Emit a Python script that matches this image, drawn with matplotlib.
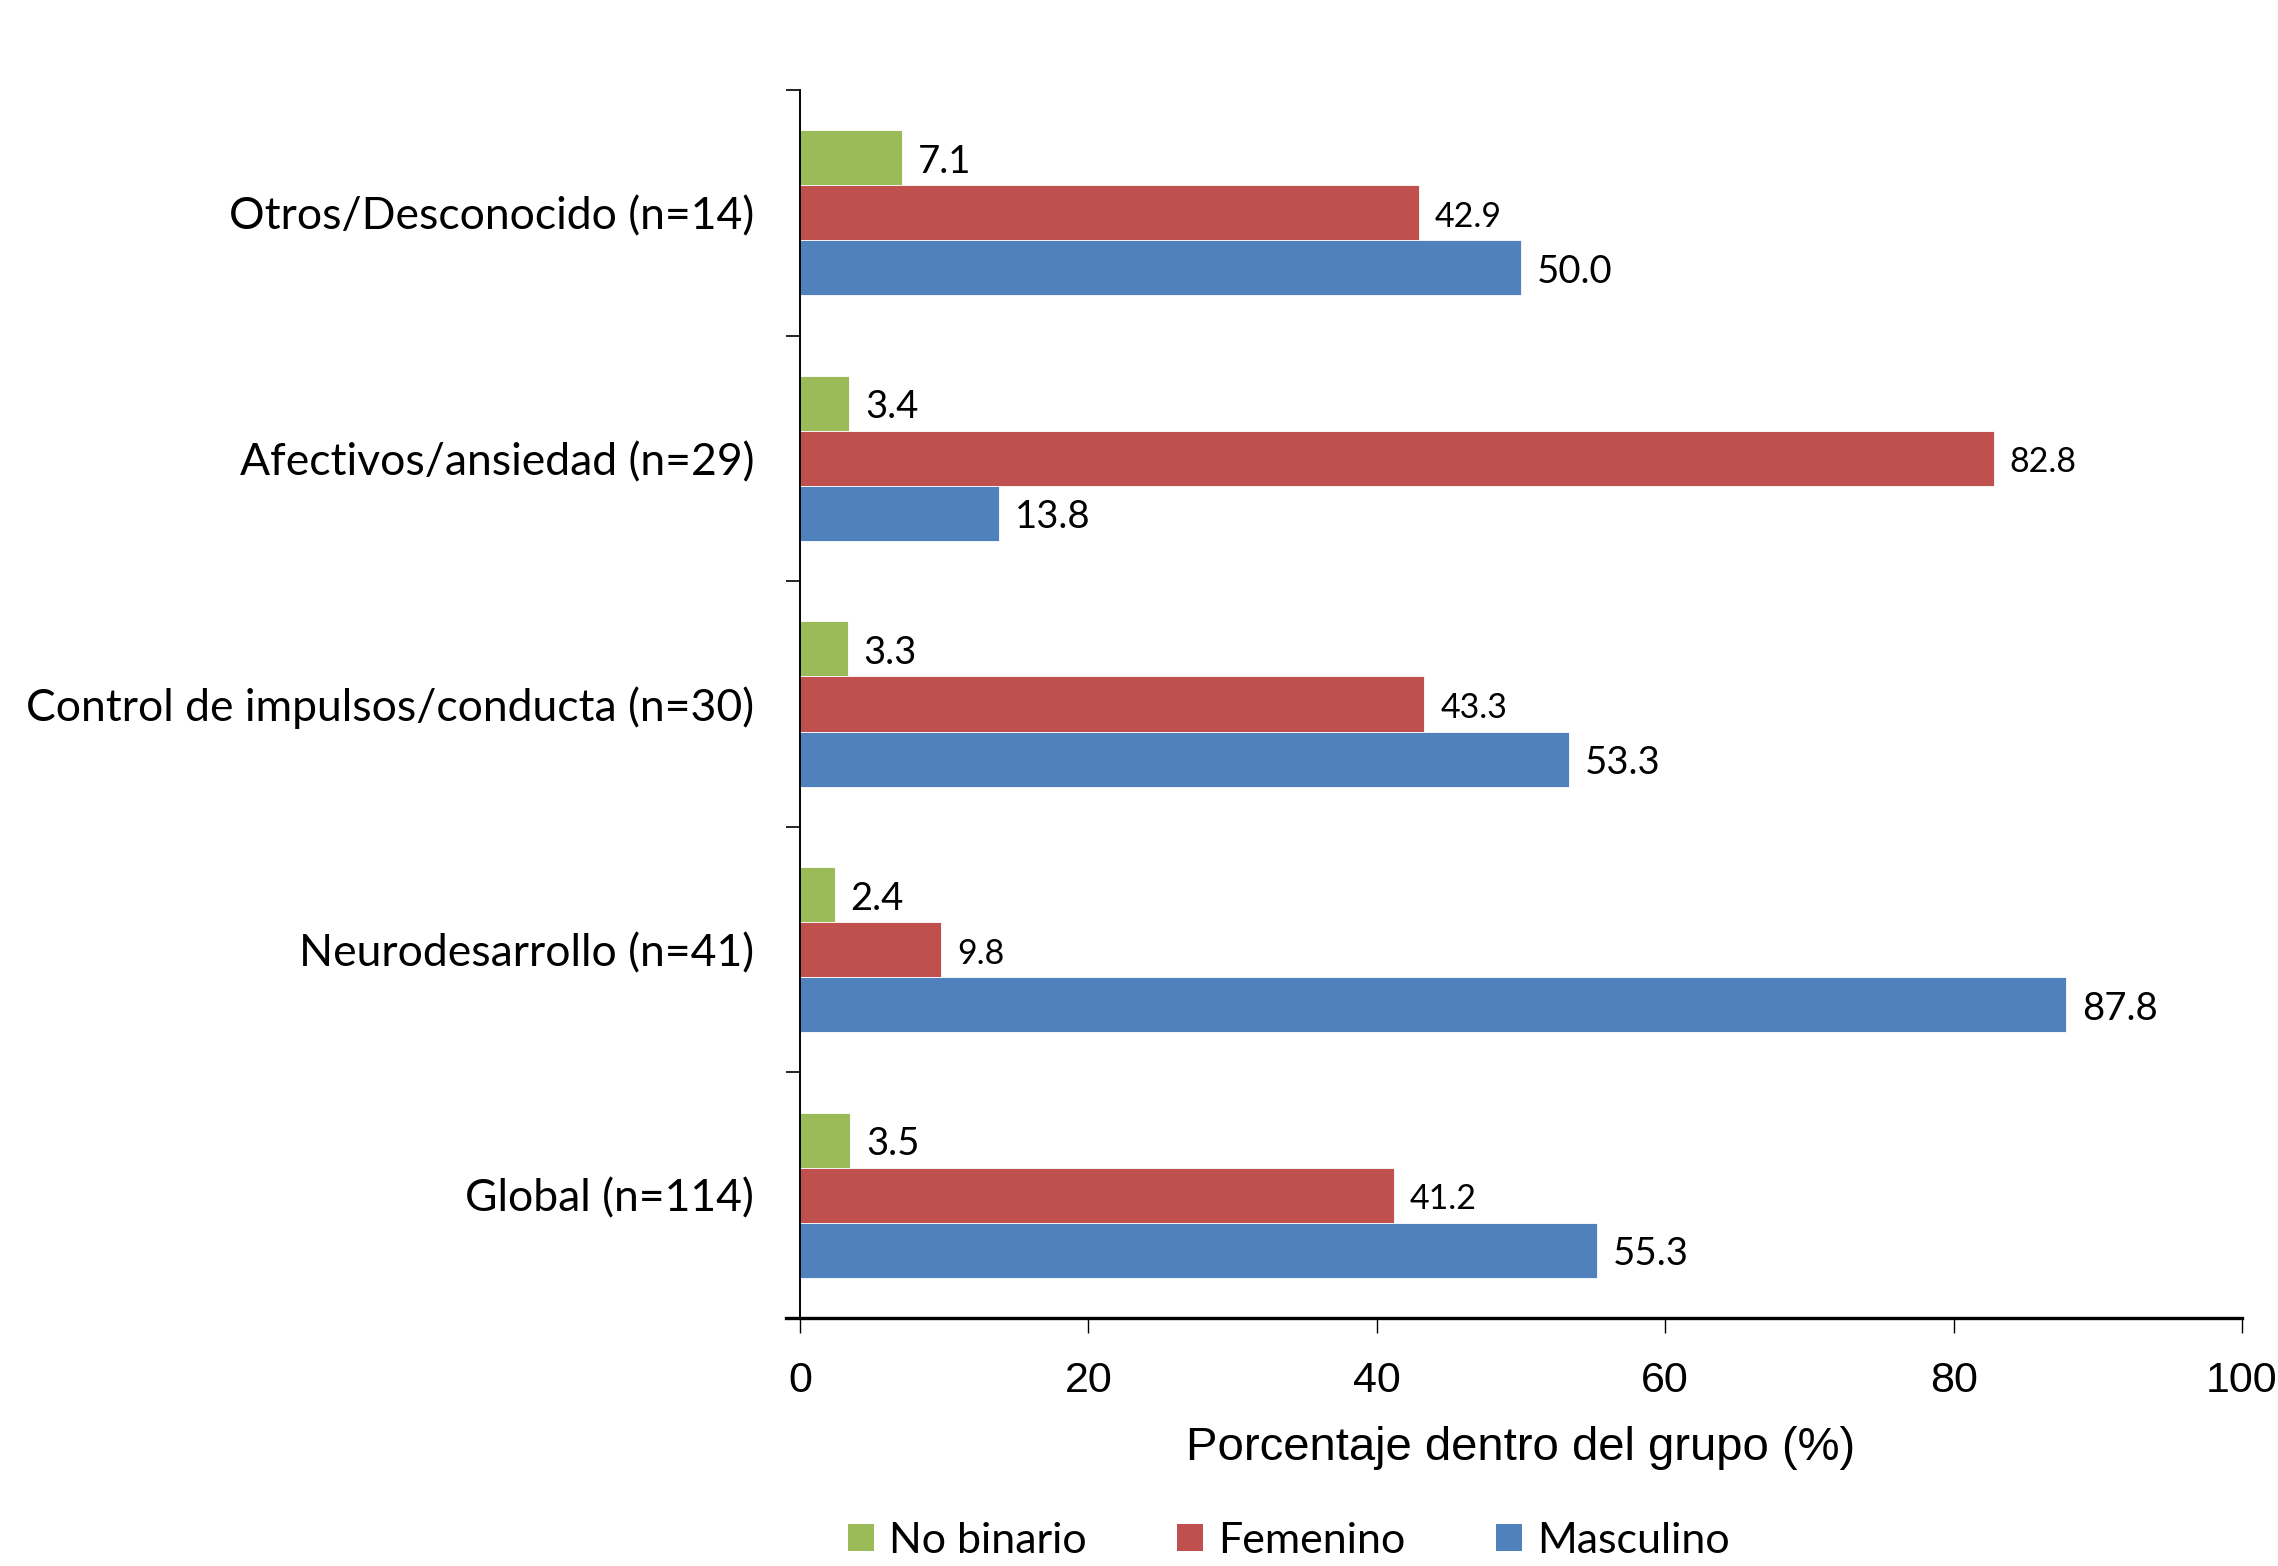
import matplotlib
matplotlib.use("Agg")
import matplotlib.pyplot as plt
from matplotlib.patches import Patch
import numpy as np

# Diagnostic groups (bottom to top) and the share of each gender within each group
categories = ["Global (n=114)", "Neurodesarrollo (n=41)",
              "Control de impulsos/conducta (n=30)", "Afectivos/ansiedad (n=29)",
              "Otros/Desconocido (n=14)"]
no_binario = [3.5, 2.4, 3.3, 3.4, 7.1]
femenino = [41.2, 9.8, 43.3, 82.8, 42.9]
masculino = [55.3, 87.8, 53.3, 13.8, 50.0]
series_names = ["No binario", "Femenino", "Masculino"]
xticks = [0, 20, 40, 60, 80, 100]
xlabel = "Porcentaje dentro del grupo (%)"

GREEN, RED, BLUE = "#9BBB59", "#C0504D", "#4F81BD"
LABEL_FONT = "Lato"
AXIS_FONT = "Liberation Sans"

W, H, DPI = 2278, 1566, 100
fig = plt.figure(figsize=(W / DPI, H / DPI), dpi=DPI)
ax = fig.add_axes([800 / W, 1 - 1318 / H, (2242 - 800) / W, (1318 - 90) / H])

y = np.arange(len(categories))
h = 0.224
series = [(no_binario, GREEN, h, 27.5), (femenino, RED, 0.0, 24.5), (masculino, BLUE, -h, 27.5)]
for vals, col, off, fs in series:
    bars = ax.barh(y + off, vals, height=h, color=col, edgecolor="white", linewidth=0.6)
    for b, v in zip(bars, vals):
        ax.text(b.get_width() + 1.1, b.get_y() + b.get_height() / 2 - 0.016, f"{v:.1f}",
                va="center", ha="left", fontsize=fs, family=LABEL_FONT, color="black")

ax.set_xlim(0, 100)
ax.set_ylim(-0.5, len(categories) - 0.5)

ax.set_xticks(xticks)
ax.set_xticklabels([str(t) for t in xticks], family=AXIS_FONT, fontsize=31)
ax.tick_params(axis="x", direction="out", length=11, width=1.0, pad=20, color="black")

ax.set_yticks(np.arange(-0.5, len(categories), 1.0))
ax.set_yticklabels([])
ax.tick_params(axis="y", which="major", direction="out", length=10, width=1.2)
ax.set_yticks(y, minor=True)
ax.set_yticklabels(categories, minor=True, family=LABEL_FONT, fontsize=32)
ax.tick_params(axis="y", which="minor", length=0, pad=33)

for s in ("top", "right"):
    ax.spines[s].set_visible(False)
ax.spines["left"].set_linewidth(1.4)
ax.spines["bottom"].set_linewidth(2.4)
ax.spines["bottom"].set_bounds(-1.0, 100)
ax.spines["bottom"].set_clip_on(False)

fig.text(1521 / W, 1 - 1448 / H, xlabel, ha="center", va="center",
         family=AXIS_FONT, fontsize=34)

handles = [Patch(facecolor=c, edgecolor="none") for c in (GREEN, RED, BLUE)]
fig.legend(handles, series_names, loc="center", bbox_to_anchor=(1289 / W, 1 - 1541 / H),
           ncol=3, frameon=False, prop={"family": LABEL_FONT, "size": 31},
           handlelength=0.6, handleheight=0.6, handletextpad=0.35, columnspacing=2.1,
           borderaxespad=0, borderpad=0)

fig.savefig("out.png", dpi=DPI, facecolor="white")
